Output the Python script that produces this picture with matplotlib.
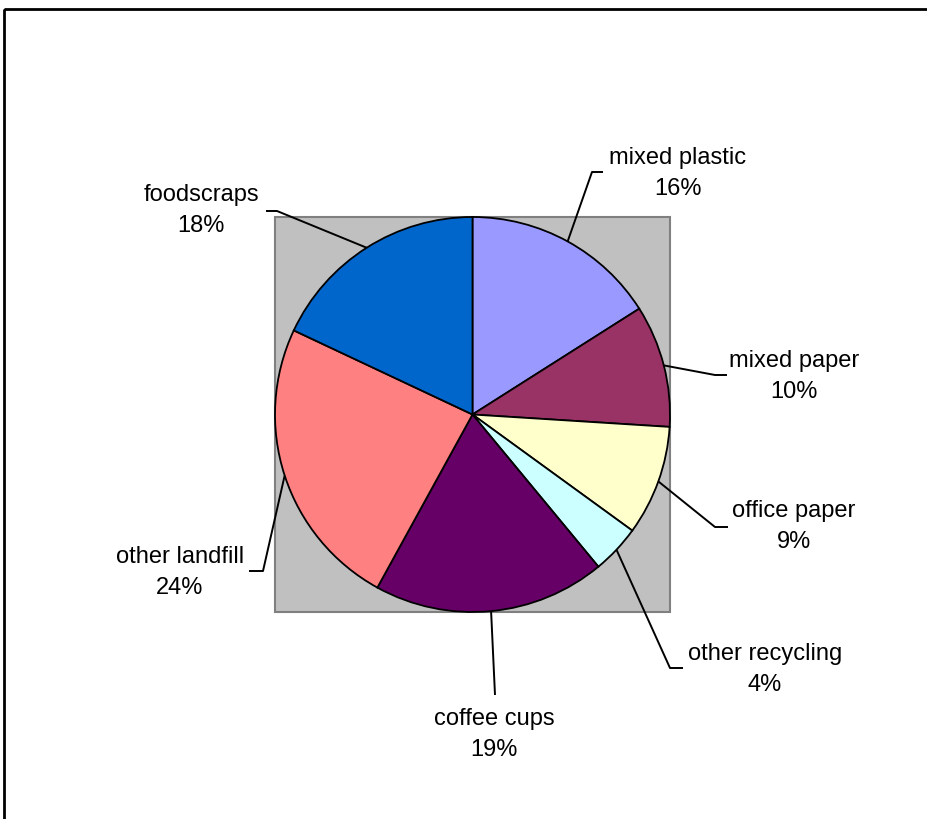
import numpy as np
import matplotlib
matplotlib.use("Agg")
import matplotlib.pyplot as plt
from matplotlib.patches import Rectangle


# -----------------------------
# Data
# -----------------------------
categories = ["mixed plastic", "mixed paper", "office paper", "other recycling",
              "coffee cups", "other landfill", "foodscraps"]
shares = [16, 10, 9, 4, 19, 24, 18]
colors = ["#9999FF", "#993366", "#FFFFCC", "#CCFFFF", "#660066", "#FF8080", "#0066CC"]

# label layout in pixel space: (elbow, end of leader, text center x, first baseline)
label_layout = [
    ((592, 172), (603, 172), 678, 164),
    ((715, 375), (727, 375), 794, 367),
    ((715, 527), (728, 527), 794, 517),
    ((670, 668), (683, 668), 765, 660),
    ((495, 695), (495, 695), 494, 725),
    ((263, 571), (249, 571), 180, 563),
    ((277, 211), (266, 211), 201, 201),
]

W, H = 928, 819
center = (472.5, 414.5)
radius = 197.5

plt.rcParams["font.family"] = ["Liberation Sans", "DejaVu Sans"]

fig = plt.figure(figsize=(W / 100, H / 100), dpi=100)
ax = fig.add_axes([0, 0, 1, 1])

# gray plot area behind the pie
ax.add_patch(Rectangle((275, 217), 395, 395, facecolor="#C0C0C0",
                       edgecolor="#808080", linewidth=1.5, zorder=1))

# y axis inverted (pixel space) -> start at -90 going "counterclock" = clockwise on screen
wedges, _ = ax.pie(shares, colors=colors, startangle=-90, counterclock=True,
                   center=center, radius=radius,
                   wedgeprops=dict(edgecolor="black", linewidth=1.3, zorder=2))

for w, name, val, (elbow, end, tx, ty) in zip(wedges, categories, shares, label_layout):
    mid = np.deg2rad((w.theta1 + w.theta2) / 2)
    sx = center[0] + radius * np.cos(mid)
    sy = center[1] + radius * np.sin(mid)
    ax.plot([sx, elbow[0], end[0]], [sy, elbow[1], end[1]], color="black",
            lw=1.4, zorder=3, solid_capstyle="butt")
    ax.text(tx, ty, name, ha="center", va="baseline", fontsize=17, zorder=4)
    ax.text(tx, ty + 31, f"{val}%", ha="center", va="baseline", fontsize=17, zorder=4)

# chart border (only top/left visible in the crop)
ax.add_patch(Rectangle((4, 9), 2000, 2000, facecolor="none", edgecolor="black",
                       linewidth=2.0, zorder=5))

ax.set_xlim(0, W)
ax.set_ylim(H, 0)
ax.set_aspect("auto")
ax.axis("off")

fig.savefig("out.png", dpi=100, facecolor="white")
